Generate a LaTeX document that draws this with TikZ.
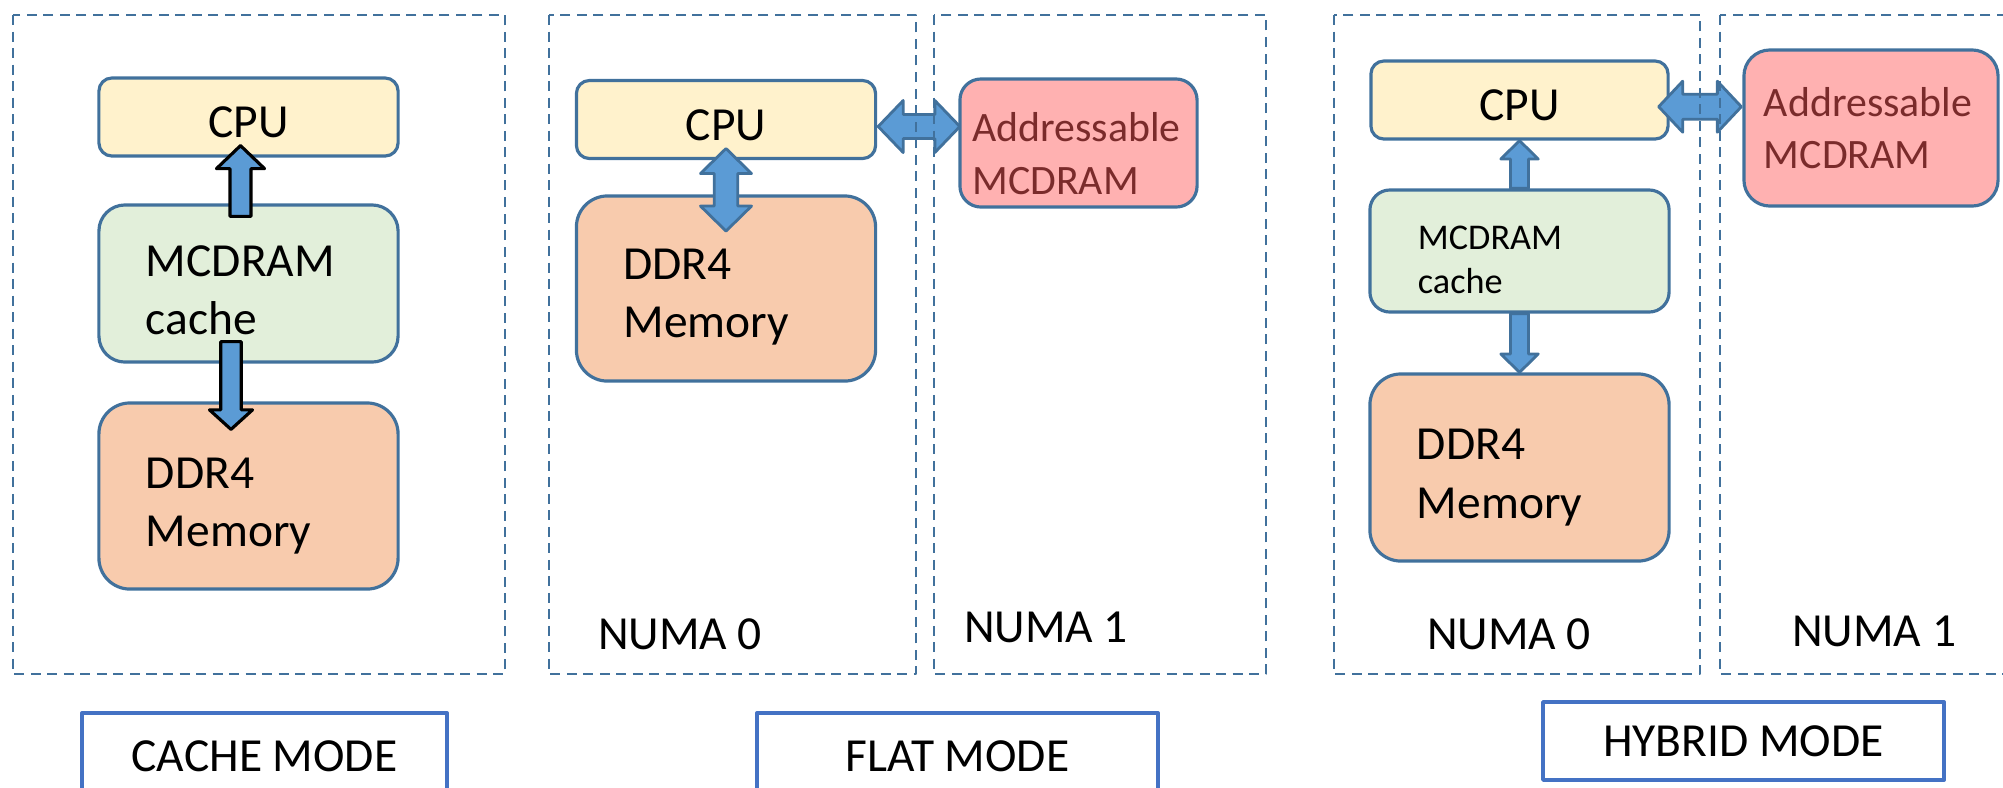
\documentclass[tikz,border=0pt]{standalone}
\usepackage{fontspec}
\setmainfont{Carlito}
\usetikzlibrary{calc}

\definecolor{frameblue}{HTML}{41719C}
\definecolor{arrowblue}{HTML}{5B9BD5}
\definecolor{modeblue}{HTML}{4472C4}
\definecolor{cpufill}{HTML}{FFF2CC}
\definecolor{cachefill}{HTML}{E2EFDA}
\definecolor{ddrfill}{HTML}{F8CBAD}
\definecolor{addrfill}{HTML}{FFB1B1}
\definecolor{addrtext}{HTML}{7A2B2B}

\tikzset{
    panel/.style={draw=frameblue, line width=0.8pt, dash pattern=on 0.1cm off 0.065cm},
    membox/.style={draw=frameblue, line width=0.9pt, minimum width=2.99cm, inner ysep=0pt,
        font=\fontsize{13.5}{16.5}\selectfont},
    sink/.style={execute at begin node={\rule{0pt}{#1}}},
    cpubox/.style={membox, fill=cpufill, minimum height=0.78cm, rounded corners=0.13cm, sink=11.8pt},
    cachebox/.style={membox, fill=cachefill, align=left},
    ddrbox/.style={membox, fill=ddrfill, align=left, minimum height=1.86cm, rounded corners=0.31cm},
    addrbox/.style={membox, fill=addrfill, align=left, text=addrtext, minimum width=0pt,
        font=\fontsize{11.9}{15}\selectfont},
    cachearrow/.style={fill=arrowblue, draw=black, line width=0.9pt},
    numaarrow/.style={fill=arrowblue, draw=frameblue, line width=0.8pt},
    numa/.style={inner sep=0pt, font=\fontsize{13.5}{16.2}\selectfont},
    modebox/.style={draw=modeblue, line width=1pt, font=\fontsize{13.5}{16.2}\selectfont}
}

% block arrow: style, tail, tip, shaft half width, head half width, head length
\newcommand{\fatarrow}[6]{%
    \coordinate (fa-h) at ($(#3)!#6!(#2)$);
    \draw[#1] ($(#2)!#4!90:(#3)$) -- ($(fa-h)!#4!-90:(#2)$) -- ($(fa-h)!#5!-90:(#2)$)
        -- (#3) -- ($(fa-h)!#5!90:(#2)$) -- ($(fa-h)!#4!90:(#2)$) -- ($(#2)!#4!-90:(#3)$) -- cycle;
}
% block arrow with two heads
\newcommand{\fatdarrow}[6]{%
    \coordinate (fa-a) at ($(#2)!#6!(#3)$);
    \coordinate (fa-b) at ($(#3)!#6!(#2)$);
    \draw[#1] (#2) -- ($(fa-a)!#5!90:(#3)$) -- ($(fa-a)!#4!90:(#3)$) -- ($(fa-b)!#4!-90:(#2)$)
        -- ($(fa-b)!#5!-90:(#2)$) -- (#3) -- ($(fa-b)!#5!90:(#2)$) -- ($(fa-b)!#4!90:(#2)$)
        -- ($(fa-a)!#4!-90:(#3)$) -- ($(fa-a)!#5!-90:(#3)$) -- cycle;
}

\begin{document}
\begin{tikzpicture}[x=0.01cm, y=-0.01cm, line join=round]
    \useasboundingbox (0,0) rectangle (2003,787);
    \clip (0,0) rectangle (2003,787);

    % Cache mode
    \node[cpubox] (ccpu) at (248.5,117) {CPU};
    \node[cachebox, minimum height=1.57cm, rounded corners=0.26cm, inner xsep=0.47cm, text width=2.05cm, sink=12.7pt] (cmc) at (248.5,283.5) {MCDRAM\\cache};
    \node[ddrbox, inner xsep=0.47cm, text width=2.05cm, sink=14.4pt] (cddr) at (248.5,496) {DDR4\\Memory};

    \coordinate (cu-a) at ($(cmc.north)+(-8,13)$);
    \coordinate (cu-b) at ($(ccpu.south)+(-8,-12)$);
    \coordinate (cd-a) at ($(cmc.south)+(-17.5,-22)$);
    \coordinate (cd-b) at ($(cddr.north)+(-17.5,28)$);
    \fatarrow{cachearrow}{cu-a}{cu-b}{0.105cm}{0.24cm}{0.23cm}
    \fatarrow{cachearrow}{cd-a}{cd-b}{0.103cm}{0.215cm}{0.195cm}

    % Flat mode
    \node[cpubox] (fcpu) at (726,119.5) {CPU};
    \node[ddrbox, minimum height=1.85cm, inner xsep=0.47cm, text width=2.05cm, sink=13.8pt] (fddr) at (726,288.5) {DDR4\\Memory};
    \node[addrbox, minimum height=1.28cm, rounded corners=0.21cm, inner xsep=0.125cm, text width=2.12cm, sink=14.3pt] (faddr) at (1078.5,143) {Addressable\\MCDRAM};

    \coordinate (fv-a) at ($(fcpu.south)+(0,-11.6)$);
    \coordinate (fv-b) at ($(fddr.north)+(0,36.7)$);
    \coordinate (fh-a) at ($(fcpu.east)+(1,7)$);
    \coordinate (fh-b) at ($(faddr.west |- fh-a)+(1.5,0)$);
    \fatdarrow{numaarrow}{fv-a}{fv-b}{0.118cm}{0.255cm}{0.25cm}
    \fatdarrow{numaarrow}{fh-a}{fh-b}{0.12cm}{0.26cm}{0.25cm}

    % Hybrid mode
    \node[cpubox, minimum width=2.97cm] (hcpu) at (1519.5,100) {CPU};
    \node[cachebox, minimum height=1.22cm, rounded corners=0.2cm, inner xsep=0.47cm, text width=2.03cm,
        font=\fontsize{10.3}{12.6}\selectfont, sink=11.7pt] (hmc) at (1519.5,251) {MCDRAM\\cache};
    \node[ddrbox, minimum height=1.87cm, inner xsep=0.46cm, text width=2.05cm, sink=14.4pt] (hddr) at (1519.5,467.5) {DDR4\\Memory};
    \node[addrbox, minimum height=1.56cm, rounded corners=0.26cm, inner xsep=0.2cm, text width=2.14cm] (haddr) at (1871,128) {Addressable\\MCDRAM};

    \coordinate (hh-a) at ($(hcpu.east)+(-11,6.7)$);
    \coordinate (hh-b) at ($(haddr.west |- hh-a)+(-1,0)$);
    \fatarrow{numaarrow}{hmc.north}{hcpu.south}{0.09cm}{0.187cm}{0.184cm}
    \fatarrow{numaarrow}{hmc.south}{hddr.north}{0.09cm}{0.187cm}{0.184cm}
    \fatdarrow{numaarrow}{hh-a}{hh-b}{0.125cm}{0.255cm}{0.24cm}

    % NUMA labels
    \foreach \name/\x/\y/\num in {f0/680/634/0, f1/1046/627/1, h0/1509/634.5/0, h1/1874/631/1} {
            \node[numa] (numa-\name) at (\x,\y) {NUMA \num};
        }

    % Panels
    \foreach \xa/\xb in {13/505, 549/916, 934/1266, 1334/1700, 1720/2030} {
            \draw[panel] (\xa,15) rectangle (\xb,674);
        }

    % Mode captions
    \node[modebox, minimum width=3.65cm, minimum height=0.87cm] (cachemode) at (264.5,756.5) {CACHE MODE};
    \node[modebox, minimum width=4.01cm, minimum height=0.87cm] (flatmode) at (957.5,756.5) {FLAT MODE};
    \node[modebox, minimum width=4.01cm, minimum height=0.78cm] (hybridmode) at (1743.5,741) {HYBRID MODE};
\end{tikzpicture}
\end{document}
